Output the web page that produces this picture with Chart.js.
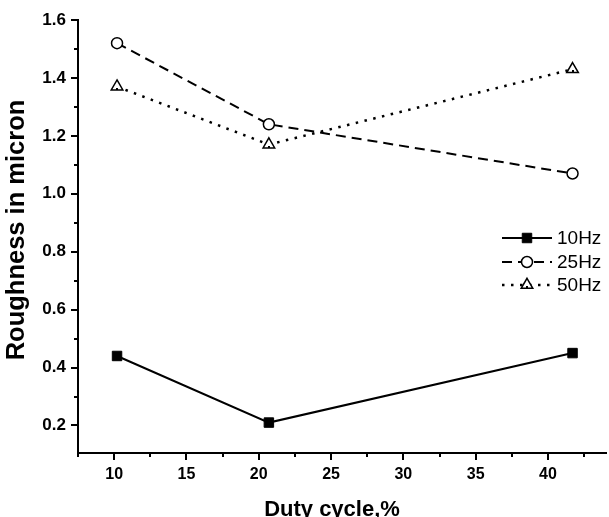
<!DOCTYPE html>
<html>
<head>
<meta charset="utf-8">
<script src="https://cdn.jsdelivr.net/npm/chart.js@4"></script>
<style>
  html, body { margin: 0; padding: 0; background: #fff; overflow: hidden; }
  #wrap { width: 609px; height: 517px; overflow: hidden; }
  #chart { display: block; }
</style>
</head>
<body>
<!-- the canvas is a few pixels wider than the frame so the x axis runs right to the edge -->
<div id="wrap"><canvas id="chart" width="614" height="517"></canvas></div>
<script>
// Duty cycle (%) and surface roughness (micron) at three pulse frequencies
const dutyCycle = [10.2, 20.7, 41.7];
const rough10Hz = [0.44, 0.21, 0.45];
const rough25Hz = [1.52, 1.24, 1.07];
const rough50Hz = [1.37, 1.17, 1.43];

const seriesNames = ['10Hz', '25Hz', '50Hz'];

const xMajorTicks = [10, 15, 20, 25, 30, 35, 40];
const xMinorTicks = [7.5, 12.5, 17.5, 22.5, 27.5, 32.5, 37.5, 42.5];
const yMajorTicks = [0.2, 0.4, 0.6, 0.8, 1.0, 1.2, 1.4, 1.6];
const yMinorTicks = [0.3, 0.5, 0.7, 0.9, 1.1, 1.3, 1.5];

const xTitle = 'Duty cycle,%';
const yTitle = 'Roughness in micron';

const toPoints = ys => dutyCycle.map((x, i) => ({ x, y: ys[i] }));

const BOLD = 'bold';
const FAMILY = '"Liberation Sans", Arial, Helvetica, sans-serif';

// Shorter minor tick marks on both axes
const minorTicks = {
  id: 'minorTicks',
  afterDraw(chart) {
    const { ctx, scales: { x, y }, chartArea } = chart;
    ctx.save();
    ctx.strokeStyle = '#000';
    ctx.lineWidth = 2;
    ctx.beginPath();
    xMinorTicks.forEach(v => {
      const px = Math.round(x.getPixelForValue(v));
      if (px < chartArea.left - 1 || px > chartArea.right) return;
      ctx.moveTo(px, chartArea.bottom);
      ctx.lineTo(px, chartArea.bottom + 4);
    });
    yMinorTicks.forEach(v => {
      const py = Math.round(y.getPixelForValue(v));
      ctx.moveTo(chartArea.left, py);
      ctx.lineTo(chartArea.left - 4, py);
    });
    ctx.stroke();
    ctx.restore();
  }
};

// Small dot in the middle of each hollow triangle marker
const triangleDots = {
  id: 'triangleDots',
  afterDatasetsDraw(chart) {
    const { ctx } = chart;
    const meta = chart.getDatasetMeta(2);
    ctx.save();
    ctx.fillStyle = '#000';
    meta.data.forEach(pt => {
      ctx.fillRect(Math.round(pt.x) - 1, Math.round(pt.y) + 1, 2, 2);
    });
    ctx.restore();
  }
};

// Legend drawn inside the plot, to the right
const insideLegend = {
  id: 'insideLegend',
  afterDraw(chart) {
    const { ctx } = chart;
    const rowsY = [238, 262, 285];
    const x0 = 502, x1 = 552, xm = 527, xt = 557;
    ctx.save();
    chart.data.datasets.forEach((ds, i) => {
      const yy = rowsY[i];
      ctx.strokeStyle = '#000';
      ctx.lineWidth = ds.borderWidth;
      ctx.setLineDash(ds.borderDash || []);
      ctx.beginPath();
      ctx.moveTo(x0, yy);
      ctx.lineTo(x1, yy);
      ctx.stroke();
      ctx.setLineDash([]);
      ctx.lineWidth = ds.pointBorderWidth;
      ctx.fillStyle = ds.pointBackgroundColor;
      ctx.strokeStyle = '#000';
      ctx.beginPath();
      if (ds.pointStyle === 'rect') {
        const s = ds.pointRadius * Math.SQRT1_2;
        ctx.rect(xm - s, yy - s, 2 * s, 2 * s);
      } else if (ds.pointStyle === 'circle') {
        ctx.arc(xm, yy, ds.pointRadius, 0, Math.PI * 2);
      } else {
        const r = ds.pointRadius;
        ctx.moveTo(xm, yy - r);
        ctx.lineTo(xm + r * Math.sin(2 * Math.PI / 3), yy - r * Math.cos(2 * Math.PI / 3));
        ctx.lineTo(xm + r * Math.sin(4 * Math.PI / 3), yy - r * Math.cos(4 * Math.PI / 3));
        ctx.closePath();
      }
      ctx.fill();
      ctx.stroke();
      if (ds.pointStyle === 'triangle') {
        ctx.fillStyle = '#000';
        ctx.fillRect(xm - 1, yy + 1, 2, 2);
      }
      ctx.fillStyle = '#000';
      ctx.font = '19px ' + FAMILY;
      ctx.textAlign = 'left';
      ctx.textBaseline = 'middle';
      ctx.fillText(seriesNames[i], xt, yy + 1);
    });
    ctx.restore();
  }
};

// Axis titles: horizontal one under the tick labels, vertical one on the left
const axisTitles = {
  id: 'axisTitles',
  afterDraw(chart) {
    const { ctx } = chart;
    ctx.save();
    ctx.fillStyle = '#000';
    ctx.font = 'bold 22px ' + FAMILY;
    ctx.textAlign = 'center';
    ctx.textBaseline = 'alphabetic';
    ctx.fillText(xTitle, 332, 516);
    ctx.translate(17, 230);
    ctx.rotate(-Math.PI / 2);
    ctx.font = 'bold 25.5px ' + FAMILY;
    ctx.textBaseline = 'middle';
    ctx.fillText(yTitle, 0, 0);
    ctx.restore();
  }
};

new Chart(document.getElementById('chart'), {
  type: 'line',
  data: {
    datasets: [
      {
        label: seriesNames[0],
        data: toPoints(rough10Hz),
        borderColor: '#000',
        borderWidth: 2,
        pointStyle: 'rect',
        pointRadius: 6.7,
        pointBorderWidth: 1,
        pointBackgroundColor: '#000',
        pointBorderColor: '#000',
        tension: 0
      },
      {
        label: seriesNames[1],
        data: toPoints(rough25Hz),
        borderColor: '#000',
        borderWidth: 2,
        borderDash: [10, 6],
        pointStyle: 'circle',
        pointRadius: 5.5,
        pointBorderWidth: 1.5,
        pointBackgroundColor: '#fff',
        pointBorderColor: '#000',
        tension: 0
      },
      {
        label: seriesNames[2],
        data: toPoints(rough50Hz),
        borderColor: '#000',
        borderWidth: 2.5,
        borderDash: [2.5, 6.5],
        pointStyle: 'triangle',
        pointRadius: 6.7,
        pointBorderWidth: 1.5,
        pointBackgroundColor: '#fff',
        pointBorderColor: '#000',
        tension: 0
      }
    ]
  },
  options: {
    responsive: false,
    animation: false,
    events: [],
    layout: { padding: { top: 20, right: 0, bottom: 0, left: 0 } },
    plugins: {
      legend: { display: false },
      tooltip: { enabled: false },
      title: { display: false }
    },
    scales: {
      x: {
        type: 'linear',
        min: 7.5,
        max: 44,
        afterBuildTicks: s => { s.ticks = xMajorTicks.map(v => ({ value: v })); },
        afterFit: s => { s.height = 64; },
        grid: { drawOnChartArea: false, drawTicks: true, tickLength: 7, color: '#000', lineWidth: 2 },
        border: { color: '#000', width: 2 },
        ticks: {
          color: '#000',
          padding: 5,
          maxRotation: 0,
          autoSkip: false,
          font: { family: FAMILY, size: 16, weight: BOLD },
          callback: v => String(v)
        },
        title: { display: false }
      },
      y: {
        type: 'linear',
        min: 0.105,
        max: 1.6,
        afterBuildTicks: s => { s.ticks = yMajorTicks.map(v => ({ value: v })); },
        afterFit: s => { s.width = 78; },
        grid: { drawOnChartArea: false, drawTicks: true, tickLength: 7, color: '#000', lineWidth: 2 },
        border: { color: '#000', width: 2 },
        ticks: {
          color: '#000',
          padding: 5,
          autoSkip: false,
          font: { family: FAMILY, size: 17, weight: BOLD },
          callback: v => v.toFixed(1)
        },
        title: { display: false }
      }
    }
  },
  plugins: [minorTicks, triangleDots, insideLegend, axisTitles]
});
</script>
</body>
</html>
